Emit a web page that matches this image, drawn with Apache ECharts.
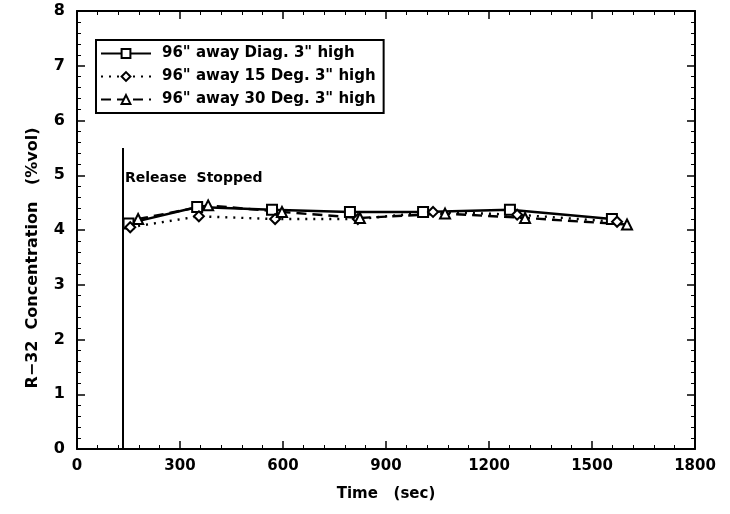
<!DOCTYPE html>
<html><head><meta charset="utf-8">
<script src="https://cdn.jsdelivr.net/npm/echarts@6/dist/echarts.min.js"></script>
<style>html,body{margin:0;padding:0;background:#fff}#c{width:730px;height:514px}</style>
</head><body><div id="c"></div>
<script>
const seriesNames = ['96" away Diag. 3" high', '96" away 15 Deg. 3" high', '96" away 30 Deg. 3" high'];
const diagTime = [150, 350, 568, 795, 1008, 1261, 1558];
const diagConc = [4.12, 4.42, 4.37, 4.33, 4.33, 4.37, 4.20];
const deg15Time = [155, 355, 577, 818, 1037, 1282, 1573];
const deg15Conc = [4.05, 4.25, 4.20, 4.20, 4.33, 4.28, 4.15];
const deg30Time = [178, 382, 597, 824, 1072, 1305, 1602];
const deg30Conc = [4.20, 4.45, 4.33, 4.22, 4.30, 4.22, 4.10];
const releaseTime = 134;
const releaseLine = [0, 5.5];
const releaseLabel = 'Release  Stopped';
const releaseLabelY = 4.95;

const zip = (a, b) => a.map((v, i) => [v, b[i]]);
const font = '"DejaVu Sans", sans-serif';
const chart = echarts.init(document.getElementById('c'));
const mk = (name, t, c, sym, type) => ({
  name, type: 'line', data: zip(t, c), symbol: sym, symbolSize: 10,
  color: '#000', lineStyle: { color: '#000', width: 2.4, type },
  itemStyle: { color: '#000', borderWidth: 2 }, z: 3, animation: false
});
const axisCommon = () => ({
  axisLine: { show: true, onZero: false, lineStyle: { color: '#000', width: 2 } },
  axisTick: { show: true, inside: true, length: 8, lineStyle: { color: '#000', width: 1.5 } },
  minorTick: { show: true, splitNumber: 5, length: 4, lineStyle: { color: '#000', width: 1 } },
  splitLine: { show: false }
});
chart.setOption({
  animation: false,
  grid: { left: 77, right: 35, top: 11, bottom: 65 },
  xAxis: [Object.assign({
    type: 'value', min: 0, max: 1800, interval: 300,
    axisLabel: { color: '#000', fontFamily: font, fontWeight: 'bold', fontSize: 15, margin: 10,
      formatter: v => String(v) },
    name: 'Time   (sec)', nameLocation: 'middle', nameGap: 38,
    nameTextStyle: { color: '#000', fontFamily: font, fontWeight: 'bold', fontSize: 15 }
  }, axisCommon()),
  Object.assign({ type: 'value', position: 'top', min: 0, max: 1800, interval: 300, axisLabel: { show: false } }, axisCommon())],
  yAxis: [Object.assign({
    type: 'value', min: 0, max: 8, interval: 1,
    axisLabel: { color: '#000', fontFamily: font, fontWeight: 'bold', fontSize: 16, margin: 12 }
  }, axisCommon()),
  Object.assign({ type: 'value', position: 'right', min: 0, max: 8, interval: 1, axisLabel: { show: false } }, axisCommon())],
  legend: {
    orient: 'vertical', left: 96, top: 40, data: seriesNames,
    borderColor: '#000', borderWidth: 2, padding: [6, 8, 6, 4], itemGap: 8,
    itemWidth: 50, itemHeight: 11,
    textStyle: { color: '#000', fontFamily: font, fontWeight: 'bold', fontSize: 15, padding: [0, 0, 0, 6] }
  },
  graphic: [
    { type: 'text', x: 33, y: 258, rotation: Math.PI / 2,
      style: { text: 'R\u221232  Concentration   (%vol)', fill: '#000', font: 'bold 16px ' + font,
        textAlign: 'center', textVerticalAlign: 'middle' } }
  ],
  series: [
    mk(seriesNames[0], diagTime, diagConc, 'emptyRect', 'solid'),
    mk(seriesNames[1], deg15Time, deg15Conc, 'emptyDiamond', [2, 6]),
    mk(seriesNames[2], deg30Time, deg30Conc, 'emptyTriangle', [10, 6]),
    { type: 'line', data: [[releaseTime, releaseLine[0]], [releaseTime, releaseLine[1]]], symbol: 'none',
      lineStyle: { color: '#000', width: 2 }, silent: true, z: 2 },
    { type: 'scatter', data: [[releaseTime, releaseLabelY]], symbolSize: 0, silent: true, z: 5,
      label: { show: true, formatter: releaseLabel, position: 'right', distance: 0, offset: [2, 0], color: '#000',
        opacity: 1, fontFamily: font, fontWeight: 'bold', fontSize: 14 } }
  ]
});
</script></body></html>
